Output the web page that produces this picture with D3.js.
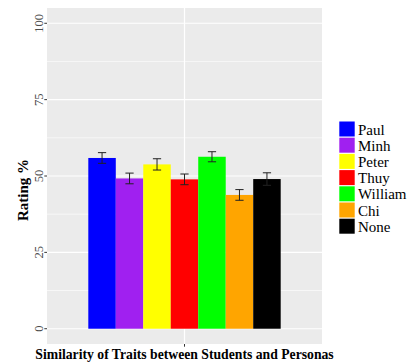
<!DOCTYPE html>
<html>
<head>
<meta charset="utf-8">
<script src="https://cdn.jsdelivr.net/npm/d3@7"></script>
<style>
  body { margin: 0; background: #fff; }
  svg text { font-family: "Liberation Serif", "Times New Roman", Times, serif; }
</style>
</head>
<body>
<div id="chart"></div>
<script>
const personas = ["Paul", "Minh", "Peter", "Thuy", "William", "Chi", "None"];
const ratings = [55.9, 49.2, 53.8, 48.9, 56.3, 43.8, 49.0];
const errors = [1.75, 1.75, 1.85, 1.75, 1.65, 1.75, 2.05];
const colours = ["#0000FF", "#A020F0", "#FFFF00", "#FF0000", "#00FF00", "#FFA500", "#000000"];
const yTicks = [0, 25, 50, 75, 100];
const yMinor = [12.5, 37.5, 62.5, 87.5];
const group = [""];
const xTitle = "Similarity of Traits between Students and Personas";
const yTitle = "Rating %";

const serif = "'Liberation Serif', 'Times New Roman', Times, serif";
const width = 408, height = 364;
const panel = { left: 47, right: 322, top: 8, bottom: 344 };

const svg = d3.select("#chart").append("svg")
    .attr("width", width)
    .attr("height", height)
    .attr("font-family", serif);

const y = d3.scaleLinear().domain([-5, 105]).range([panel.bottom, panel.top]);
const x = d3.scaleBand().domain(group).range([panel.left, panel.right])
    .paddingInner(0).paddingOuter(0.2147);
const xi = d3.scaleBand().domain(personas).range([0, x.bandwidth()]);
const colour = d3.scaleOrdinal().domain(personas).range(colours);

const data = personas.map((p, i) => ({ name: p, value: ratings[i], se: errors[i] }));

// panel background + grid
svg.append("rect")
    .attr("x", panel.left).attr("y", panel.top)
    .attr("width", panel.right - panel.left).attr("height", panel.bottom - panel.top)
    .attr("fill", "#EBEBEB");

svg.append("g").selectAll("line")
    .data(yMinor).join("line")
    .attr("x1", panel.left).attr("x2", panel.right)
    .attr("y1", d => y(d)).attr("y2", d => y(d))
    .attr("stroke", "#fff").attr("stroke-width", 0.6);

svg.append("g").selectAll("line")
    .data(yTicks).join("line")
    .attr("x1", panel.left).attr("x2", panel.right)
    .attr("y1", d => y(d)).attr("y2", d => y(d))
    .attr("stroke", "#fff").attr("stroke-width", 1.2);

svg.append("g").selectAll("line")
    .data(group).join("line")
    .attr("x1", d => x(d) + x.bandwidth() / 2).attr("x2", d => x(d) + x.bandwidth() / 2)
    .attr("y1", panel.top).attr("y2", panel.bottom)
    .attr("stroke", "#fff").attr("stroke-width", 1.2);

// bars
const g = svg.append("g").attr("transform", `translate(${x(group[0])},0)`);

g.selectAll("rect")
    .data(data).join("rect")
    .attr("x", d => xi(d.name))
    .attr("y", d => y(d.value))
    .attr("width", xi.bandwidth())
    .attr("height", d => y(0) - y(d.value))
    .attr("fill", d => colour(d.name));

// error bars
const capW = xi.bandwidth() * 0.3;
const eb = g.selectAll("g.err").data(data).join("g").attr("class", "err")
    .attr("stroke", "#222").attr("stroke-width", 1);
eb.append("line")
    .attr("x1", d => xi(d.name) + xi.bandwidth() / 2).attr("x2", d => xi(d.name) + xi.bandwidth() / 2)
    .attr("y1", d => y(d.value + d.se)).attr("y2", d => y(d.value - d.se));
eb.append("line")
    .attr("x1", d => xi(d.name) + xi.bandwidth() / 2 - capW / 2).attr("x2", d => xi(d.name) + xi.bandwidth() / 2 + capW / 2)
    .attr("y1", d => y(d.value + d.se)).attr("y2", d => y(d.value + d.se));
eb.append("line")
    .attr("x1", d => xi(d.name) + xi.bandwidth() / 2 - capW / 2).attr("x2", d => xi(d.name) + xi.bandwidth() / 2 + capW / 2)
    .attr("y1", d => y(d.value - d.se)).attr("y2", d => y(d.value - d.se));

// y axis ticks + labels
const yAxis = svg.append("g");
yAxis.selectAll("line")
    .data(yTicks).join("line")
    .attr("x1", panel.left - 2.7).attr("x2", panel.left)
    .attr("y1", d => y(d)).attr("y2", d => y(d))
    .attr("stroke", "#333").attr("stroke-width", 1);
yAxis.selectAll("text")
    .data(yTicks).join("text")
    .attr("transform", d => `translate(43,${y(d)}) rotate(-90)`)
    .attr("text-anchor", "middle")
    .attr("font-family", serif)
    .attr("font-size", 12.5)
    .attr("fill", "#4D4D4D")
    .text(d => d);

// x axis tick (blank label)
svg.append("g").selectAll("line")
    .data(group).join("line")
    .attr("x1", d => x(d) + x.bandwidth() / 2).attr("x2", d => x(d) + x.bandwidth() / 2)
    .attr("y1", panel.bottom).attr("y2", panel.bottom + 2.7)
    .attr("stroke", "#333").attr("stroke-width", 1);

// titles
svg.append("text")
    .attr("x", (panel.left + panel.right) / 2).attr("y", 358.5)
    .attr("text-anchor", "middle")
    .attr("font-family", serif)
    .attr("font-size", 13.7).attr("font-weight", "bold")
    .text(xTitle);

svg.append("text")
    .attr("transform", `translate(28,190) rotate(-90)`)
    .attr("text-anchor", "middle")
    .attr("font-family", serif)
    .attr("font-size", 15).attr("font-weight", "bold")
    .text(yTitle);

// legend
const legend = svg.append("g").attr("transform", "translate(339.3,121.5)");
const item = legend.selectAll("g").data(personas).join("g")
    .attr("transform", (d, i) => `translate(0,${i * 16.2})`);
item.append("rect")
    .attr("width", 15.4).attr("height", 15)
    .attr("fill", d => colour(d));
item.append("text")
    .attr("x", 18.7).attr("y", 13)
    .attr("font-family", serif)
    .attr("font-size", 15)
    .text(d => d);
</script>
</body>
</html>
